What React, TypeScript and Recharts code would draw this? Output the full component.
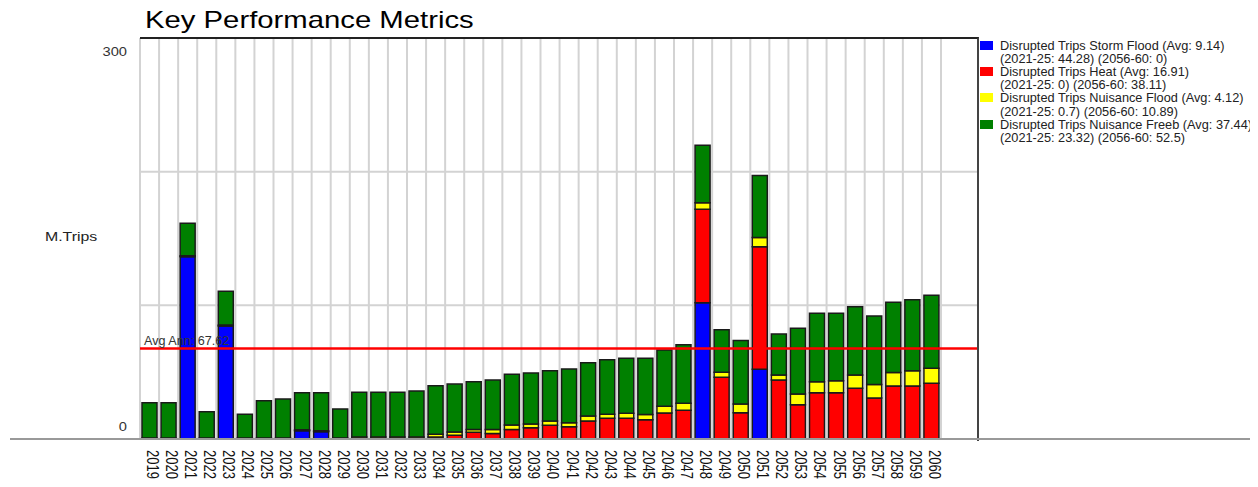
import React from 'react';
import { Bar, BarChart, CartesianGrid, ReferenceLine, XAxis, YAxis } from 'recharts';

const years = [
  '2019', '2020', '2021', '2022', '2023', '2024', '2025', '2026', '2027', '2028',
  '2029', '2030', '2031', '2032', '2033', '2034', '2035', '2036', '2037', '2038',
  '2039', '2040', '2041', '2042', '2043', '2044', '2045', '2046', '2047', '2048',
  '2049', '2050', '2051', '2052', '2053', '2054', '2055', '2056', '2057', '2058',
  '2059', '2060',
];

const stormFlood = [
  0, 0, 136.4, 0, 84.5, 0, 0, 0, 6.2, 5.5,
  0, 0, 0, 0, 0, 0, 0, 0, 0, 0,
  0, 0, 0, 0, 0, 0, 0, 0, 0, 102,
  0, 0, 52.1, 0, 0, 0, 0, 0, 0, 0,
  0, 0,
];

const heat = [
  0, 0, 0, 0, 0, 0, 0, 0, 0, 0,
  0, 0, 0, 0, 0, 1.5, 2.8, 5.0, 4.2, 7.2,
  8.5, 10.2, 9.2, 13.5, 15.5, 15.5, 14.4, 19.5, 21.5, 69.9,
  46.2, 19.7, 91.7, 44.1, 25.7, 34.6, 34.6, 37.9, 30.7, 39.7,
  39.7, 41.7,
];

const nuisanceFlood = [
  0.7, 0.7, 0.7, 0.7, 0.7, 0.7, 0.7, 0.7, 0.7, 0.7,
  0.7, 1.5, 1.5, 1.5, 1.5, 2.0, 2.5, 2.2, 3.0, 3.2,
  2.7, 3.2, 3.0, 3.7, 3.0, 3.7, 4.0, 5.0, 5.2, 4.9,
  3.7, 6.5, 7.0, 3.7, 8.0, 8.2, 9.0, 10.0, 10.0, 10.0,
  11.4, 11.2,
];

const nuisanceFreeb = [
  26.5, 26.5, 24.3, 19.7, 25.3, 17.8, 28.0, 29.2, 27.7, 28.4,
  21.8, 33.4, 33.4, 33.4, 34.4, 36.4, 35.8, 35.7, 36.9, 38.0,
  38.2, 37.7, 40.2, 39.9, 40.8, 41.2, 42.0, 42.1, 43.8, 42.9,
  31.9, 47.4, 46.4, 30.7, 49.1, 51.2, 50.4, 51.1, 51.4, 52.7,
  53.1, 54.6,
];

const avgAnnual = 67.62;
const yTicks = [0, 100, 200, 300];
const yTickLabels = ['0', '', '', '300'];

const series = [
  { key: 'storm', color: '#0000ff', name: 'Disrupted Trips Storm Flood (Avg: 9.14)', sub: '(2021-25: 44.28) (2056-60: 0)' },
  { key: 'heat', color: '#ff0000', name: 'Disrupted Trips Heat (Avg: 16.91)', sub: '(2021-25: 0) (2056-60: 38.11)' },
  { key: 'nflood', color: '#ffff00', name: 'Disrupted Trips Nuisance Flood (Avg: 4.12)', sub: '(2021-25: 0.7) (2056-60: 10.89)' },
  { key: 'freeb', color: '#008000', name: 'Disrupted Trips Nuisance Freeb (Avg: 37.44)', sub: '(2021-25: 23.32) (2056-60: 52.5)' },
];

const data = years.map((year, i) => ({
  year,
  storm: stormFlood[i],
  heat: heat[i],
  nflood: nuisanceFlood[i],
  freeb: nuisanceFreeb[i],
}));

const FONT = '"Liberation Sans", Arial, sans-serif';
const RIGHT_PAD = 37;
// chart texts in the source look stretched sideways
const STRETCH = 1.22;

const YearTick = (props: any) => {
  const { x, y, payload } = props;
  const tx = x + 3;
  const ty = y + 3;
  return (
    <text
      x={0}
      y={0}
      dy="0.35em"
      transform={`translate(${tx}, ${ty}) scale(${STRETCH}, 1) rotate(90)`}
      textAnchor="start"
      fontSize={13}
      fontFamily={FONT}
      fill="#111"
    >
      {payload.value}
    </text>
  );
};

const ValueTick = (props: any) => {
  const { x, y, payload } = props;
  const idx = yTicks.indexOf(payload.value);
  const label = yTickLabels[idx];
  if (!label) return null;
  const dy = payload.value === 0 ? -8 : 18;
  const tx = x + 5;
  return (
    <text
      x={0}
      y={0}
      transform={`translate(${tx}, ${y + dy}) scale(1.13, 1)`}
      textAnchor="end"
      fontSize={13}
      fontFamily={FONT}
      fill="#333"
    >
      {label}
    </text>
  );
};

// vertical grid lines sit on the category boundaries, not the centres
const gridX = (props: any) => {
  const { offset } = props;
  const bw = (offset.width - RIGHT_PAD) / years.length;
  return years.map((_, i) => offset.left + i * bw).concat([offset.left + years.length * bw]);
};

export default function App() {
  return (
    <div style={{ position: 'absolute', left: 0, top: 0, width: 1258, height: 487, background: '#fff', fontFamily: FONT }}>
      <div
        style={{
          position: 'absolute', left: 145, top: 6, fontSize: 24, color: '#000', whiteSpace: 'nowrap',
          transform: `scaleX(${STRETCH})`, transformOrigin: 'left top',
        }}
      >
        Key Performance Metrics
      </div>
      <div
        style={{
          position: 'absolute', left: 45, top: 229, fontSize: 13, color: '#222',
          transform: `scaleX(${STRETCH})`, transformOrigin: 'left top',
        }}
      >
        M.Trips
      </div>
      <BarChart width={1258} height={487} data={data} margin={{ top: 38, right: 280, bottom: 0, left: 80 }}>
        <CartesianGrid
          stroke="#d3d3d3"
          strokeWidth={2}
          verticalCoordinatesGenerator={gridX}
        />
        <XAxis
          dataKey="year"
          interval={0}
          tickLine={false}
          axisLine={{ stroke: '#666', strokeWidth: 2 }}
          tick={<YearTick />}
          padding={{ left: 0, right: RIGHT_PAD }}
          height={48}
        />
        <YAxis
          domain={[0, 300]}
          ticks={yTicks}
          width={60}
          axisLine={false}
          tickLine={false}
          tick={<ValueTick />}
          tickMargin={12}
        />
        {series.map((s) => (
          <Bar
            key={s.key}
            dataKey={s.key}
            stackId="a"
            barSize={15}
            fill={s.color}
            stroke="#1a1a1a"
            strokeWidth={1.5}
            isAnimationActive={false}
          />
        ))}
        <ReferenceLine
          y={avgAnnual}
          stroke="#ff0000"
          strokeWidth={2.5}
          label={{ value: `Avg Ann: ${avgAnnual}`, position: 'insideBottomLeft', offset: 4, fontSize: 12.6, fill: '#333', fontFamily: FONT }}
        />
      </BarChart>
      <div style={{ position: 'absolute', left: 140, top: 37, width: 837, height: 402, borderTop: '2px solid #222', borderRight: '2px solid #444', pointerEvents: 'none' }} />
      <div style={{ position: 'absolute', left: 10, top: 438, width: 1240, height: 2, background: '#999', pointerEvents: 'none' }} />
      <div
        style={{
          position: 'absolute', left: 980, top: 38.5, width: 270, height: 110, overflow: 'hidden',
          whiteSpace: 'nowrap', fontSize: 12.75, lineHeight: '13.2px', color: '#222',
        }}
      >
        {series.map((s) => (
          <div key={s.key}>
            <div style={{ position: 'relative', paddingLeft: 20 }}>
              <span style={{ position: 'absolute', left: 0, top: 2, width: 13, height: 9, background: s.color }} />
              {s.name}
            </div>
            <div style={{ paddingLeft: 20 }}>{s.sub}</div>
          </div>
        ))}
      </div>
    </div>
  );
}
